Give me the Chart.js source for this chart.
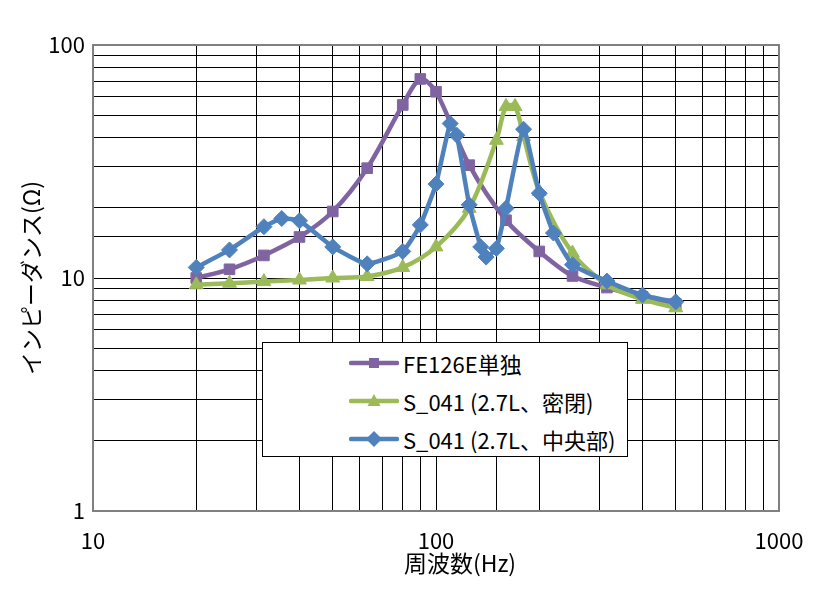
<!DOCTYPE html>
<html><head><meta charset="utf-8">
<script src="https://cdn.jsdelivr.net/npm/chart.js@4.4.1/dist/chart.umd.min.js"></script>
<style>
html,body{margin:0;padding:0;background:#fff;}
#wrap{position:relative;width:827px;height:590px;}
#legend{position:absolute;left:262px;top:342px;width:366px;height:115px;box-sizing:border-box;border:1px solid #000;background:#fff;font-family:"Noto Sans CJK JP","Noto Sans",sans-serif;font-size:22px;color:#000;}
.row{position:absolute;left:0;width:100%;height:30px;}
.row svg{position:absolute;left:86px;top:6px;}
.row span{position:absolute;left:140px;top:0;white-space:nowrap;line-height:30px;}
</style></head>
<body><div id="wrap"><canvas id="c" width="827" height="590"></canvas><div id="legend"></div></div>
<script>
// ---- data ----
const seriesNames = ['FE126E単独', 'S_041 (2.7L、密閉)', 'S_041 (2.7L、中央部)'];
const freqFE   = [20, 25, 31.5, 40, 50, 63, 80, 90, 100, 125, 160, 200, 250, 315, 400, 500];
const impFE    = [10.0, 10.9, 12.5, 15.0, 19.3, 29.6, 55.3, 71.5, 63, 30.5, 17.7, 13.0, 10.2, 9.1, 8.3, 7.75];
const freqSeal = [20, 25, 31.5, 40, 50, 63, 80, 100, 125, 150, 160, 170, 180, 200, 250, 315, 400, 500];
const impSeal  = [9.35, 9.5, 9.65, 9.8, 10.0, 10.15, 11.1, 13.6, 19.9, 39, 54.5, 54.5, 40.5, 23.5, 12.8, 9.35, 8.1, 7.45];
const freqMid  = [20, 25, 31.5, 35.5, 40, 50, 63, 80, 90, 100, 110, 115, 125, 135, 140, 150, 160, 180, 200, 220, 250, 315, 400, 500];
const impMid   = [11.1, 13.2, 16.6, 18.0, 17.6, 13.6, 11.5, 13.0, 16.9, 25.3, 46, 41, 20.6, 13.6, 12.3, 13.4, 19.9, 43.5, 23.1, 15.6, 11.4, 9.7, 8.45, 7.9];
const xTickLabels = [10, 100, 1000];
const yTickLabels = [1, 10, 100];
const xTitle = '周波数(Hz)';
const yTitle = 'インピーダンス(Ω)';

const PURPLE = '#8064A2', GREEN = '#9BBB59', BLUE = '#4F81BD';
const FONT = '"Noto Sans CJK JP","Noto Sans",sans-serif';

const pts = (xs, ys) => xs.map((x, i) => ({x: x, y: ys[i]}));
const isLabel = (v, list) => list.some(t => Math.abs(v - t) < 1e-6 * t);

const framePlugin = {
  id: 'frame',
  beforeDatasetsDraw(chart) {
    const a = chart.chartArea, c = chart.ctx;
    c.save();
    c.strokeStyle = '#808080';
    c.lineWidth = 2;
    c.strokeRect(a.left, a.top, a.right - a.left, a.bottom - a.top);
    c.restore();
  }
};
const titlePlugin = {
  id: 'titles',
  afterDraw(chart) {
    const c = chart.ctx;
    c.save();
    c.fillStyle = '#000';
    c.font = '23px ' + FONT;
    c.textAlign = 'center';
    c.textBaseline = 'middle';
    c.fillText(xTitle, 460, 563);
    c.translate(31, 278);
    c.rotate(-Math.PI / 2);
    c.fillText(yTitle, 0, 0);
    c.restore();
  }
};

const ds = (label, xs, ys, color, style, r, tension, order) => ({
  label, data: pts(xs, ys), borderColor: color, backgroundColor: color,
  pointBackgroundColor: color, pointBorderColor: color, pointStyle: style,
  pointRadius: r, pointBorderWidth: 1, borderWidth: 4.5, tension, order, fill: false
});

new Chart(document.getElementById('c'), {
  type: 'line',
  data: {datasets: [
    ds(seriesNames[0], freqFE, impFE, PURPLE, 'rect', 7.5, 0.3, 3),
    ds(seriesNames[1], freqSeal, impSeal, GREEN, 'triangle', 8, 0.3, 2),
    ds(seriesNames[2], freqMid, impMid, BLUE, 'rectRot', 8, 0.15, 1)
  ]},
  options: {
    responsive: false, animation: false, devicePixelRatio: 1,
    layout: {padding: {left: 0, top: 45, right: 48, bottom: 0}},
    plugins: {legend: {display: false}, tooltip: {enabled: false}},
    scales: {
      x: {
        type: 'logarithmic', min: 10, max: 1000,
        afterFit(s) { s.height = 79; },
        grid: {color: '#000', lineWidth: 1, drawTicks: false},
        border: {display: false},
        ticks: {autoSkip: false, maxRotation: 0, minRotation: 0, padding: 16, color: '#000',
          font: {family: FONT, size: 22},
          callback: v => isLabel(v, xTickLabels) ? String(v) : ''}
      },
      y: {
        type: 'logarithmic', min: 1, max: 100,
        afterFit(s) { s.width = 93; },
        grid: {color: '#000', lineWidth: 1, drawTicks: false},
        border: {display: false},
        ticks: {autoSkip: false, padding: 8, color: '#000',
          font: {family: FONT, size: 22},
          callback: v => isLabel(v, yTickLabels) ? String(v) : ''}
      }
    }
  },
  plugins: [framePlugin, titlePlugin]
});

// ---- legend (HTML, real text) ----
const legendEl = document.getElementById('legend');
const legendRows = [
  {name: seriesNames[0], color: PURPLE, shape: 'rect', cy: 20},
  {name: seriesNames[1], color: GREEN, shape: 'tri', cy: 58},
  {name: seriesNames[2], color: BLUE, shape: 'dia', cy: 96}
];
legendRows.forEach(r => {
  let marker;
  if (r.shape === 'rect') marker = `<rect x="20" y="4" width="10" height="10" fill="${r.color}"/>`;
  else if (r.shape === 'tri') marker = `<polygon points="25,2 31.5,14 18.5,14" fill="${r.color}"/>`;
  else marker = `<polygon points="25,1 33,9 25,17 17,9" fill="${r.color}"/>`;
  const div = document.createElement('div');
  div.className = 'row';
  div.style.top = (r.cy - 15) + 'px';
  div.innerHTML = `<svg width="50" height="18" viewBox="0 0 50 18"><line x1="2" y1="9" x2="48" y2="9" stroke="${r.color}" stroke-width="4.5" stroke-linecap="round"/>${marker}</svg><span>${r.name}</span>`;
  legendEl.appendChild(div);
});
</script>
</body></html>
